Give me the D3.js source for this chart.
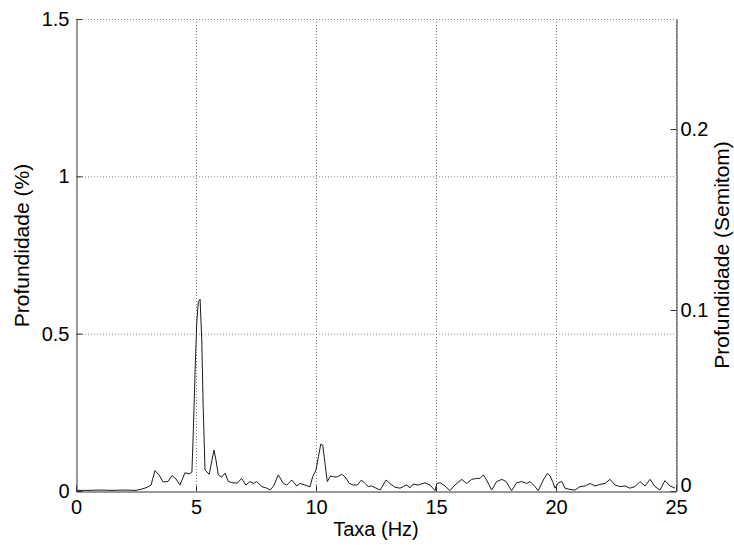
<!DOCTYPE html>
<html>
<head>
<meta charset="utf-8">
<script src="https://cdn.jsdelivr.net/npm/d3@7"></script>
<style>
  body { margin: 0; background: #fff; }
  svg { display: block; font-family: 'Liberation Sans', Arial, sans-serif; }
  .grid line { stroke: #888; stroke-dasharray: 1,2; stroke-width: 1; }
  .axis path, .axis line { stroke: #333; }
  .axis text { font-size: 20px; fill: #000; }
</style>
</head>
<body>
<div id="chart"></div>
<script>
// Frequência (Hz)
const taxa = [0, 0.5, 1.0, 1.5, 2.0, 2.5, 2.79, 3.0, 3.13, 3.29, 3.46, 3.63, 3.83, 4.0, 4.17, 4.33,
  4.54, 4.71, 4.83, 4.89, 4.96, 5.03, 5.10, 5.17, 5.24, 5.30, 5.375, 5.55, 5.65, 5.75, 5.83, 5.93,
  6.07, 6.21, 6.35, 6.54, 6.72, 6.90, 7.08, 7.25, 7.39, 7.53, 7.74, 7.95, 8.08, 8.22, 8.43, 8.64,
  8.78, 8.99, 9.20, 9.33, 9.54, 9.75, 9.86, 10.0, 10.10, 10.20, 10.28, 10.375, 10.47, 10.61, 10.72,
  10.89, 11.07, 11.21, 11.39, 11.55, 11.72, 11.90, 12.04, 12.18, 12.32, 12.5, 12.67, 12.80, 12.92,
  13.08, 13.29, 13.5, 13.64, 13.78, 13.92, 14.05, 14.26, 14.54, 14.75, 14.96, 15.03, 15.17, 15.375,
  15.58, 15.79, 16.07, 16.28, 16.49, 16.70, 16.83, 16.97, 17.11, 17.32, 17.53, 17.74, 17.92, 18.15,
  18.36, 18.57, 18.78, 18.92, 19.125, 19.26, 19.47, 19.64, 19.75, 19.86, 19.96, 20.10, 20.24, 20.375,
  20.58, 20.79, 21.0, 21.21, 21.42, 21.625, 21.83, 22.04, 22.25, 22.46, 22.67, 22.875, 23.08, 23.29,
  23.5, 23.71, 23.92, 24.125, 24.33, 24.54, 24.75, 24.96];
// Profundidade (%)
const profundidade = [0.002, 0.002, 0.003, 0.002, 0.003, 0.002, 0.007, 0.013, 0.019, 0.065, 0.051, 0.029, 0.030, 0.049, 0.038, 0.019,
  0.058, 0.054, 0.060, 0.194, 0.375, 0.534, 0.602, 0.609, 0.480, 0.268, 0.067, 0.053, 0.092, 0.130, 0.099, 0.051,
  0.044, 0.057, 0.030, 0.026, 0.025, 0.040, 0.019, 0.030, 0.024, 0.030, 0.014, 0.009, 0.003, 0.014, 0.051, 0.024,
  0.019, 0.035, 0.016, 0.024, 0.019, 0.013, 0.045, 0.067, 0.109, 0.149, 0.146, 0.088, 0.030, 0.048, 0.045,
  0.045, 0.053, 0.045, 0.024, 0.019, 0.019, 0.035, 0.024, 0.014, 0.016, 0.009, 0.003, 0.019, 0.035,
  0.024, 0.012, 0.009, 0.014, 0.019, 0.010, 0.022, 0.019, 0.026, 0.019, 0.001, 0.024, 0.026, 0.016,
  0.001, 0.019, 0.037, 0.024, 0.037, 0.040, 0.040, 0.051, 0.035, 0.003, 0.030, 0.037, 0.030, 0.001,
  0.026, 0.030, 0.024, 0.030, 0.014, 0.001, 0.035, 0.056, 0.048, 0.030, 0.009, 0.026, 0.030, 0.009,
  0.005, 0.003, 0.014, 0.016, 0.024, 0.016, 0.021, 0.024, 0.037, 0.019, 0.014, 0.016, 0.009, 0.014,
  0.030, 0.016, 0.037, 0.014, 0.003, 0.033, 0.016, 0.009];

const xTicks = [0, 5, 10, 15, 20, 25];
const yTicks = [0, 0.5, 1, 1.5];
const y2Ticks = [0, 0.1, 0.2];
const xDomain = [0, 25];
const yDomain = [0, 1.5];
const y2Domain = [0, 0.2608];

const W = 734, H = 545;
const margin = { left: 76, right: 58, top: 19, bottom: 54 };

const svg = d3.select('#chart').append('svg')
  .attr('width', W)
  .attr('height', H);

const xScale = d3.scaleLinear().domain(xDomain).range([margin.left, W - margin.right]);
const yScale = d3.scaleLinear().domain(yDomain).range([H - margin.bottom, margin.top]);
const y2Scale = d3.scaleLinear().domain(y2Domain).range([H - margin.bottom, margin.top]);

// grade pontilhada
const grid = svg.append('g').attr('class', 'grid');
grid.selectAll('.gx').data(xTicks.filter(function (d) { return d > 0; }))
  .enter().append('line')
  .attr('x1', function (d) { return xScale(d) + 0.5; })
  .attr('x2', function (d) { return xScale(d) + 0.5; })
  .attr('y1', yScale(1.5))
  .attr('y2', yScale(0));
grid.selectAll('.gy').data(yTicks.filter(function (d) { return d > 0; }))
  .enter().append('line')
  .attr('x1', xScale(0))
  .attr('x2', xScale(25))
  .attr('y1', function (d) { return yScale(d) + 0.5; })
  .attr('y2', function (d) { return yScale(d) + 0.5; });

// linha
const line = d3.line()
  .x(function (d, i) { return xScale(taxa[i]); })
  .y(function (d) { return yScale(d); });

svg.append('path')
  .datum(profundidade)
  .attr('fill', 'none')
  .attr('stroke', '#1a1a1a')
  .attr('stroke-width', 1)
  .attr('stroke-linejoin', 'round')
  .attr('d', line);

// eixos (ticks para dentro, estilo MATLAB)
const axisX = d3.axisBottom(xScale).tickValues(xTicks).tickSize(-6).tickPadding(10).tickSizeOuter(0);
const axisY = d3.axisLeft(yScale).tickValues(yTicks).tickFormat(d3.format('~g')).tickSize(-6).tickPadding(7).tickSizeOuter(0);
const axisY2 = d3.axisRight(y2Scale).tickValues(y2Ticks).tickFormat(d3.format('~g')).tickSize(-6).tickPadding(4).tickSizeOuter(0);

const gx = svg.append('g').attr('class', 'axis')
  .attr('transform', 'translate(0,' + (H - margin.bottom + 0.5) + ')')
  .call(axisX);
gx.selectAll('text').attr('dy', '0.62em');

svg.append('g').attr('class', 'axis')
  .attr('transform', 'translate(' + (margin.left + 0.5) + ',0)')
  .call(axisY);

const gy2 = svg.append('g').attr('class', 'axis')
  .attr('transform', 'translate(' + (W - margin.right + 0.5) + ',0)')
  .call(axisY2);
// o "0" da direita fica um pouco acima para não colidir com o "25"
gy2.selectAll('text').filter(function (d) { return d === 0; }).attr('dy', '0em');

// rótulos
svg.append('text')
  .attr('x', xScale(12.5))
  .attr('y', 536)
  .attr('text-anchor', 'middle')
  .style('font-size', '20px')
  .text('Taxa (Hz)');

svg.append('text')
  .attr('transform', 'translate(29,' + yScale(0.78) + ') rotate(-90)')
  .attr('text-anchor', 'middle')
  .style('font-size', '21px')
  .text('Profundidade (%)');

svg.append('text')
  .attr('transform', 'translate(729,' + yScale(0.75) + ') rotate(-90)')
  .attr('text-anchor', 'middle')
  .style('font-size', '21px')
  .text('Profundidade (Semitom)');
</script>
</body>
</html>
